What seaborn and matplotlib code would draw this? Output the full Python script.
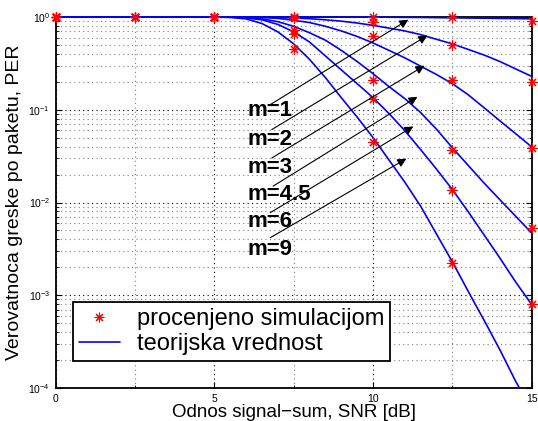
import numpy as np
import pandas as pd
import matplotlib
matplotlib.use("Agg")
import matplotlib.pyplot as plt
import seaborn as sns
from matplotlib.ticker import FixedLocator, MultipleLocator, LogLocator, NullFormatter
from matplotlib.lines import Line2D
from matplotlib.transforms import Bbox, TransformedBbox

# ---------------- data ----------------
m_labels = ["m=1", "m=2", "m=3", "m=4.5", "m=6", "m=9"]

snr_theory = [0, 2, 4, 5, 5.5, 6, 6.5, 7, 7.5, 8, 8.5, 9, 9.5, 10, 10.5, 11,
              11.5, 12, 12.5, 13, 13.5, 14, 14.5, 15]

per_m1 = [1, 1, 1, 1, 1, 1, 1, 1, 1, 1, 1, 1, 1, 1, 0.995, 0.991,
          0.989, 0.984, 0.98, 0.975, 0.971, 0.966, 0.962, 0.955]
per_m2 = [1, 1, 1, 1, 1, 1, 0.995, 0.989, 0.977, 0.959, 0.933, 0.902, 0.861, 0.813, 0.759, 0.708,
          0.646, 0.575, 0.513, 0.447, 0.389, 0.331, 0.275, 0.229]
per_m3 = [1, 1, 1, 1, 1, 1, 0.989, 0.966, 0.923, 0.871, 0.794, 0.708, 0.617, 0.525, 0.437, 0.363,
          0.295, 0.240, 0.191, 0.145, 0.105, 0.0759, 0.0550, 0.0398]
per_m45 = [1, 1, 1, 1, 1, 0.989, 0.955, 0.891, 0.794, 0.676, 0.562, 0.437, 0.331, 0.245, 0.178, 0.132,
           0.0933, 0.0617, 0.0389, 0.0251, 0.0162, 0.0107, 0.00708, 0.00468]
per_m6 = [1, 1, 1, 1, 1, 0.977, 0.933, 0.832, 0.692, 0.537, 0.380, 0.269, 0.191, 0.135, 0.0912, 0.0596,
          0.0372, 0.0229, 0.0138, 0.00794, 0.00447, 0.00251, 0.00138, 0.000794]
per_m9 = [1, 1, 1, 1, 0.989, 0.955, 0.851, 0.692, 0.513, 0.349, 0.222, 0.135, 0.0832, 0.0501, 0.0288, 0.0166,
          0.00912, 0.00457, 0.00229, 0.0011, 0.000537, 0.000257, 0.000117, 0.0000589]

snr_sim = [0, 2.5, 5, 7.5, 10, 12.5, 15]
sim_m1 = [1, 1, 1, 1, 1, 1, 0.9]
sim_m2 = [1, 1, 1, 1, 0.88, 0.5, 0.2]
sim_m3 = [1, 1, 1, 0.97, 0.62, 0.21, 0.039]
sim_m45 = [1, 1, 1, 0.73, 0.21, 0.037, 0.0053]
sim_m6 = [1, 1, 1, 0.66, 0.13, 0.0138, 0.0008]
sim_m9 = [1, 1, 1, 0.45, 0.045, 0.0022, np.nan]

legend_labels = ["procenjeno simulacijom", "teorijska vrednost"]
x_label = "Odnos signal\u2212sum, SNR [dB]"
y_label = "Verovatnoca greske po paketu, PER"

# annotation arrows (tail -> tip) and label positions, data coordinates
arrow_tail_x = [6.76, 6.81, 6.81, 6.85, 6.76, 6.76]
arrow_tail_y = [0.1135, 0.0611, 0.0302, 0.0150, 0.00776, 0.00417]
arrow_tip_x = [11.11, 11.71, 11.62, 11.40, 11.27, 11.05]
arrow_tip_y = [0.935, 0.631, 0.299, 0.138, 0.0661, 0.0297]
label_x = 6.04
label_y = [0.0977, 0.0479, 0.0240, 0.0123, 0.00631, 0.00309]

# ---------------- build tables ----------------
theory_series = [per_m1, per_m2, per_m3, per_m45, per_m6, per_m9]
sim_series = [sim_m1, sim_m2, sim_m3, sim_m45, sim_m6, sim_m9]
theory = pd.concat([pd.DataFrame({"snr": snr_theory, "per": s, "m": lab})
                    for s, lab in zip(theory_series, m_labels)], ignore_index=True)
sim = pd.concat([pd.DataFrame({"snr": snr_sim, "per": s, "m": lab})
                 for s, lab in zip(sim_series, m_labels)], ignore_index=True).dropna()

# ---------------- plot ----------------
sns.set_style("ticks")
plt.rcParams["font.family"] = ["Liberation Sans", "DejaVu Sans"]
plt.rcParams["mathtext.fontset"] = "custom"
plt.rcParams["mathtext.rm"] = "Liberation Sans"
for key in ["text.color", "axes.labelcolor", "xtick.color", "ytick.color", "axes.edgecolor"]:
    plt.rcParams[key] = "black"

fig = plt.figure(figsize=(5.38, 4.21), dpi=100)
ax = fig.add_axes([0.1035, 0.0784, 0.8848, 0.8812])
ax.set_yscale("log")

blue = "#0000ff"
red = "#ff0000"
sns.lineplot(data=theory, x="snr", y="per", hue="m", palette={k: blue for k in m_labels},
             estimator=None, sort=False, legend=False, linewidth=1.2, ax=ax, zorder=3)
sns.scatterplot(data=sim, x="snr", y="per", color=red, edgecolor=red, marker=(8, 2, 0),
                s=45, linewidth=0.8, legend=False, ax=ax, zorder=4, clip_on=False)

ax.set_xlim(0, 15)
ax.set_ylim(1e-4, 1)

# let the curves lying on PER=1 show fully at the top edge
clipbox = TransformedBbox(Bbox([[0, 0], [1, 1.01]]), ax.transAxes)
for ln in ax.get_lines():
    ln.set_clip_box(clipbox)

ax.xaxis.set_major_locator(FixedLocator([0, 5, 10, 15]))
ax.xaxis.set_minor_locator(MultipleLocator(2.5))
ax.yaxis.set_major_locator(LogLocator(base=10, numticks=10))
ax.yaxis.set_minor_locator(LogLocator(base=10, subs=np.arange(2, 10), numticks=20))
ax.yaxis.set_minor_formatter(NullFormatter())

ax.grid(True, which="major", linestyle=(0, (1, 3)), color="black", linewidth=0.8)
ax.grid(True, which="minor", linestyle=(0, (1, 3)), color="0.5", linewidth=0.8)
ax.set_axisbelow(True)

ax.tick_params(which="both", direction="in", top=True, right=True, labelsize=7.5, color="black",
               labelcolor="black")
ax.tick_params(which="major", length=4, width=0.8, pad=4)
ax.tick_params(which="minor", length=2, width=0.6)
for sp in ax.spines.values():
    sp.set_linewidth(1.3)
    sp.set_color("black")

ax.set_xlabel(x_label, fontsize=13.5, labelpad=0, color="black")
ax.set_ylabel(y_label, fontsize=14, labelpad=4, color="black")

for i, lab in enumerate(m_labels):
    ax.annotate("", xy=(arrow_tip_x[i], arrow_tip_y[i]), xytext=(arrow_tail_x[i], arrow_tail_y[i]),
                arrowprops=dict(arrowstyle="-|>", color="black", lw=0.8, mutation_scale=13,
                                shrinkA=0, shrinkB=0), zorder=5)
    ax.text(label_x, label_y[i], lab, fontsize=16, fontweight="bold", ha="left", va="center",
            color="black", zorder=6)

handles = [Line2D([], [], color=red, marker=(8, 2, 0), linestyle="", markersize=7, markeredgewidth=0.8),
           Line2D([], [], color=blue, linewidth=1.2)]
leg = ax.legend(handles, legend_labels, loc="lower left", bbox_to_anchor=(0.036, 0.073),
                borderaxespad=0, fontsize=17, frameon=True, fancybox=False, framealpha=1,
                edgecolor="black", borderpad=0.25, handlelength=1.75, handletextpad=0.7,
                labelspacing=0.12)
leg.get_frame().set_linewidth(1.3)
for t in leg.get_texts():
    t.set_color("black")

fig.savefig("out.png", dpi=100)
